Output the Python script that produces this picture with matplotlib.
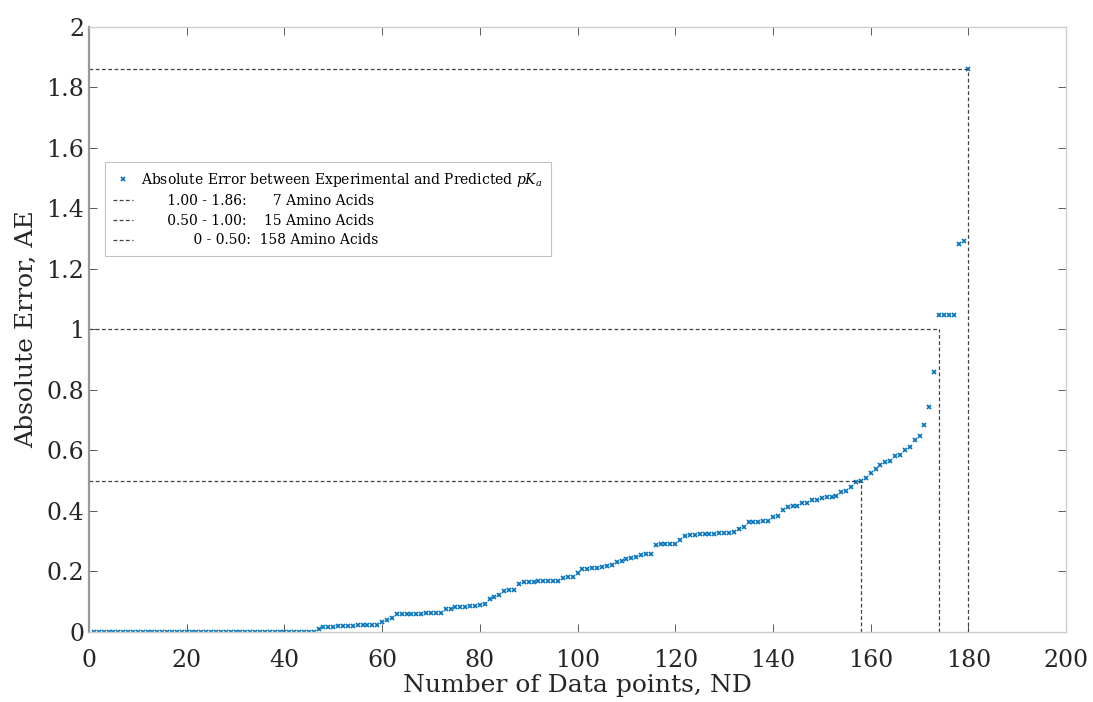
import numpy as np
import matplotlib
matplotlib.use("Agg")
import matplotlib.pyplot as plt

# sorted absolute errors, one per amino acid
ae_zero = [0.0] * 46
ae_low = [0.01, 0.016, 0.016, 0.016,
          0.021, 0.021, 0.021, 0.021, 0.022, 0.022, 0.022, 0.023, 0.023,
          0.034, 0.040, 0.046,
          0.058, 0.059, 0.060, 0.060, 0.061, 0.061, 0.062, 0.062, 0.063, 0.064,
          0.075, 0.076,
          0.083, 0.084, 0.084, 0.085, 0.085,
          0.089, 0.091,
          0.108, 0.115, 0.122,
          0.137, 0.139, 0.140,
          0.158, 0.164, 0.166, 0.166, 0.167, 0.168, 0.168, 0.169, 0.170,
          0.180, 0.181, 0.182,
          0.196]
ae_mid = [0.207, 0.209, 0.211, 0.213, 0.215, 0.218, 0.221,
          0.232, 0.236, 0.240, 0.245, 0.249,
          0.256, 0.258, 0.259,
          0.289, 0.290, 0.291, 0.291, 0.292,
          0.304,
          0.318, 0.321, 0.322, 0.323, 0.323, 0.324, 0.325, 0.326, 0.327, 0.328, 0.329,
          0.340, 0.347,
          0.362, 0.364, 0.365, 0.366, 0.367,
          0.381, 0.383,
          0.403,
          0.414, 0.416, 0.417,
          0.425, 0.427,
          0.435, 0.437,
          0.444, 0.446, 0.447, 0.448,
          0.463, 0.466,
          0.480,
          0.496, 0.499]
ae_high = [0.509, 0.525, 0.539, 0.552, 0.563, 0.566, 0.581, 0.584,
           0.600, 0.613, 0.636, 0.648, 0.684, 0.744, 0.860,
           1.048, 1.048, 1.048, 1.048, 1.283, 1.292, 1.860]

ae = np.array(ae_zero + ae_low + ae_mid + ae_high)
nd = np.arange(1, len(ae) + 1)

# cut-off levels and how many amino acids fall under each
levels = [1.86, 1.00, 0.50]
counts = [180, 174, 158]
labels = ['      1.00 - 1.86:      7 Amino Acids',
          '      0.50 - 1.00:    15 Amino Acids',
          '            0 - 0.50:  158 Amino Acids']

plt.rcParams['font.family'] = ['DejaVu Serif']
plt.rcParams['mathtext.fontset'] = 'dejavuserif'

fig = plt.figure(figsize=(10.93, 7.02), dpi=100)
ax = fig.add_axes([0.0814, 0.0997, 0.894, 0.862])

ax.plot(nd, ae, 'x', color=(0, 0.447, 0.741), markersize=3.5, markeredgewidth=1.2,
        label='Absolute Error between Experimental and Predicted $pK_a$')

for lev, n, lab in zip(levels, counts, labels):
    ax.plot([0, n], [lev, lev], '--', color='0.25', linewidth=0.9, dashes=(3, 2), label=lab)
    ax.plot([n, n], [0, lev], '--', color='0.25', linewidth=0.9, dashes=(3, 2))

ax.set_xlim(0, 200)
ax.set_ylim(0, 2)
ax.set_xticks(np.arange(0, 201, 20))
ax.set_yticks(np.arange(0, 2.01, 0.2))
ax.set_yticklabels(['0', '0.2', '0.4', '0.6', '0.8', '1', '1.2', '1.4', '1.6', '1.8', '2'])
ax.tick_params(direction='in', length=6, width=0.6, colors='0.25', labelsize=17,
               top=True, right=True, labelcolor='0.15')
ax.tick_params(axis='x', pad=12)
for s in ax.spines.values():
    s.set_color('0.8')
    s.set_linewidth(1.0)
ax.spines['left'].set_linewidth(1.6)
ax.spines['left'].set_color('0.6')

ax.set_xlabel('Number of Data points, ND', fontsize=18, color='0.15', labelpad=2)
ax.set_ylabel('Absolute Error, AE', fontsize=18, color='0.15', labelpad=6)

leg = ax.legend(loc='upper left', bbox_to_anchor=(0.0164, 0.776), fontsize=10,
                frameon=True, fancybox=False, handlelength=1.4, handletextpad=0.6,
                borderpad=0.6, labelspacing=0.4, markerscale=0.8, borderaxespad=0)
leg.get_frame().set_edgecolor('0.7')
leg.get_frame().set_linewidth(0.8)

fig.savefig('out.png', dpi=100)
